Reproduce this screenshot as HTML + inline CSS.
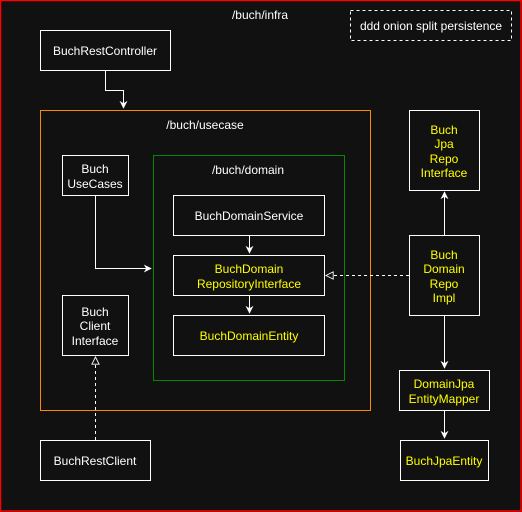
<!DOCTYPE html>
<html><head><meta charset="utf-8"><style>
html,body{margin:0;padding:0;background:#111;}
svg{display:block}
text{font-family:"Liberation Sans",Arial,sans-serif;font-size:12px;text-anchor:middle;dominant-baseline:central}
</style></head><body>
<svg width="522" height="512" viewBox="0 0 522 512" xmlns="http://www.w3.org/2000/svg">
<defs>
<marker id="a" viewBox="0 0 10 10" refX="9" refY="5" markerWidth="8" markerHeight="8" orient="auto-start-reverse"><path d="M0,0 L10,5 L0,10 L3,5 z" fill="#fff"/></marker>
<marker id="t" viewBox="0 0 10 10" refX="9" refY="5" markerWidth="9" markerHeight="9" orient="auto"><path d="M1,1 L9,5 L1,9 z" fill="#111" stroke="#fff" stroke-width="1"/></marker>
</defs>
<rect x="0" y="0" width="522" height="512" fill="#111"/>
<rect x="0.5" y="0.5" width="520.5" height="510.5" fill="none" stroke="#f00" stroke-width="1.5"/>
<text x="260" y="15" fill="#fff">/buch/infra</text>
<rect x="350.5" y="10.5" width="161" height="30" fill="none" stroke="#fff" stroke-dasharray="3 3"/>
<text x="431" y="26" fill="#fff">ddd onion split persistence</text>

<rect x="40.5" y="30.5" width="130" height="40" fill="#111" stroke="#fff"/>
<text x="105" y="51" fill="#fff">BuchRestController</text>
<polyline points="105.5,70 105.5,90.5 123.5,90.5 123.5,108" fill="none" stroke="#fff" marker-end="url(#a)"/>

<rect x="40.5" y="110.5" width="330" height="300" fill="none" stroke="#f80"/>
<text x="205" y="125" fill="#fff">/buch/usecase</text>
<rect x="153.5" y="155.5" width="191" height="225" fill="none" stroke="#080"/>
<text x="248" y="170" fill="#fff">/buch/domain</text>

<rect x="62.5" y="155.5" width="66" height="40" fill="#111" stroke="#fff"/>
<text x="95" y="169" fill="#fff">Buch</text>
<text x="95" y="184" fill="#fff">UseCases</text>
<polyline points="95.5,196 95.5,268.5 151,268.5" fill="none" stroke="#fff" marker-end="url(#a)"/>

<rect x="173.5" y="195.5" width="151" height="40" fill="#111" stroke="#fff"/>
<text x="249" y="216" fill="#fff">BuchDomainService</text>
<line x1="249.5" y1="236" x2="249.5" y2="253" stroke="#fff" marker-end="url(#a)"/>
<rect x="173.5" y="255.5" width="151" height="40" fill="#111" stroke="#fff"/>
<text x="249" y="269" fill="#ff0">BuchDomain</text>
<text x="249" y="284" fill="#ff0">RepositoryInterface</text>
<line x1="249.5" y1="296" x2="249.5" y2="313" stroke="#fff" marker-end="url(#a)"/>
<rect x="173.5" y="315.5" width="151" height="40" fill="#111" stroke="#fff"/>
<text x="249" y="336" fill="#ff0">BuchDomainEntity</text>

<rect x="62.5" y="295.5" width="66" height="60" fill="#111" stroke="#fff"/>
<text x="95" y="312" fill="#fff">Buch</text>
<text x="95" y="326" fill="#fff">Client</text>
<text x="95" y="341" fill="#fff">Interface</text>
<line x1="95.5" y1="440" x2="95.5" y2="357" stroke="#fff" stroke-dasharray="3 3" marker-end="url(#t)"/>
<rect x="40.5" y="440.5" width="110" height="40" fill="#111" stroke="#fff"/>
<text x="95" y="461" fill="#fff">BuchRestClient</text>

<rect x="409.5" y="110.5" width="70" height="80" fill="#111" stroke="#fff"/>
<text x="444" y="130" fill="#ff0">Buch</text>
<text x="444" y="144" fill="#ff0">Jpa</text>
<text x="444" y="159" fill="#ff0">Repo</text>
<text x="444" y="173" fill="#ff0">Interface</text>
<line x1="444.5" y1="235" x2="444.5" y2="192" stroke="#fff" marker-end="url(#a)"/>
<rect x="409.5" y="235.5" width="70" height="80" fill="#111" stroke="#fff"/>
<text x="444" y="255" fill="#ff0">Buch</text>
<text x="444" y="269" fill="#ff0">Domain</text>
<text x="444" y="284" fill="#ff0">Repo</text>
<text x="444" y="298" fill="#ff0">Impl</text>
<line x1="409" y1="275.5" x2="326" y2="275.5" stroke="#fff" stroke-dasharray="3 3" marker-end="url(#t)"/>
<line x1="444.5" y1="316" x2="444.5" y2="368" stroke="#fff" marker-end="url(#a)"/>
<rect x="399.5" y="370.5" width="90" height="40" fill="#111" stroke="#fff"/>
<text x="444" y="384" fill="#ff0">DomainJpa</text>
<text x="444" y="399" fill="#ff0">EntityMapper</text>
<line x1="444.5" y1="411" x2="444.5" y2="438" stroke="#fff" marker-end="url(#a)"/>
<rect x="400.5" y="440.5" width="88" height="40" fill="#111" stroke="#fff"/>
<text x="444" y="461" fill="#ff0">BuchJpaEntity</text>
</svg>
</body></html>
